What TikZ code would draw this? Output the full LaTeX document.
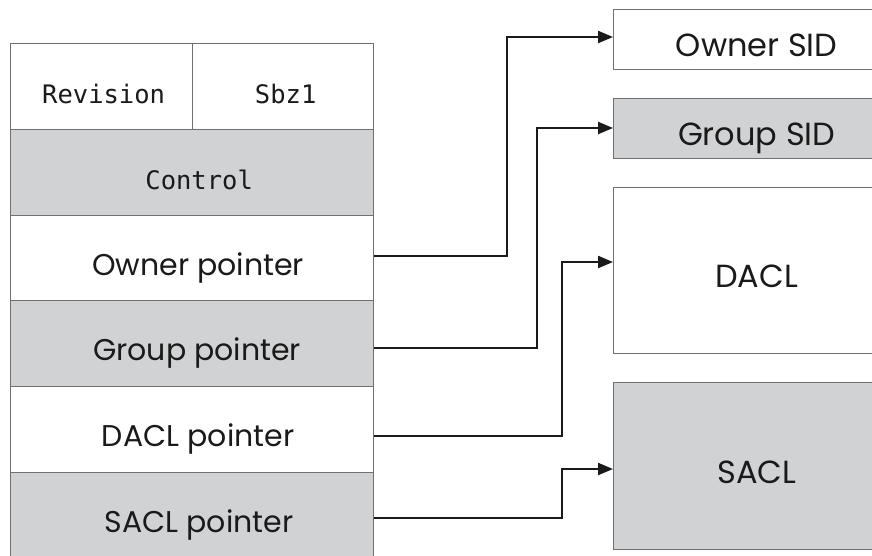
\documentclass[tikz,border=0pt]{standalone}
\usepackage{fontspec}
\setmainfont{Poppins}
\newfontfamily\monof{DejaVu Sans Mono}
\usetikzlibrary{arrows.meta}
\definecolor{cellgray}{HTML}{D1D2D4}
\definecolor{edgegray}{HTML}{707070}
\definecolor{ink}{HTML}{1A1A1A}
\begin{document}
\begin{tikzpicture}[x=1pt,y=-1pt,
  cell/.style={draw=edgegray,line width=1.3pt,anchor=north west,inner sep=0pt,
    minimum height=86pt,text height=36pt,text depth=2pt,text=ink},
  wide/.style={cell,minimum width=363pt,font=\fontsize{30}{34}\selectfont},
  half/.style={cell,font=\monof\fontsize{25.5}{28}\selectfont},
  mono/.style={wide,font=\monof\fontsize{25.5}{28}\selectfont},
  shaded/.style={fill=cellgray},
  target/.style={draw=edgegray,line width=1.3pt,anchor=north west,inner sep=0pt,
    minimum width=286pt,text height=36pt,text depth=2pt,text=ink,
    font=\fontsize{32}{36}\selectfont},
  conn/.style={draw=ink,line width=2.2pt,-{Triangle[length=15pt,width=12pt]}}]
\useasboundingbox (0,0) rectangle (872,555);
\fill[white] (0,0) rectangle (872,555);
\begin{scope}
\clip (0,0) rectangle (872,555);
% left structure
\node[half,minimum width=182pt] (rev) at (10,43) {\hspace*{4pt}Revision};
\node[half,minimum width=181pt] (sbz) at (192,43) {\hspace*{5pt}Sbz1};
\node[mono,shaded] (ctl) at (10,129) {\hspace*{14pt}Control};
\node[wide] (ownp) at (10,215) {\hspace*{12pt}Owner pointer};
\node[wide,shaded] (grpp) at (10,300) {\hspace*{10pt}Group pointer};
\node[wide] (daclp) at (10,386) {\hspace*{12pt}DACL pointer};
\node[wide,shaded] (saclp) at (10,472) {\hspace*{14pt}SACL pointer};
% right structure
\node[target,minimum height=60pt] (osid) at (613,9) {Owner SID};
\node[target,shaded,minimum height=60pt] (gsid) at (613,98) {Group SID};
\node[target,minimum height=166pt] (dacl) at (613,187) {DACL};
\node[target,shaded,minimum height=167pt] (sacl) at (613,382) {SACL};
\end{scope}
% connectors
\draw[conn] (ownp.east |- 0,256) -- (507,256) |- (osid.west |- 0,37);
\draw[conn] (grpp.east |- 0,348) -- (537,348) |- (gsid.west |- 0,128);
\draw[conn] (daclp.east |- 0,436) -- (562,436) |- (dacl.west |- 0,262);
\draw[conn] (saclp.east |- 0,518) -- (562,518) |- (sacl.west |- 0,469);
\end{tikzpicture}
\end{document}
